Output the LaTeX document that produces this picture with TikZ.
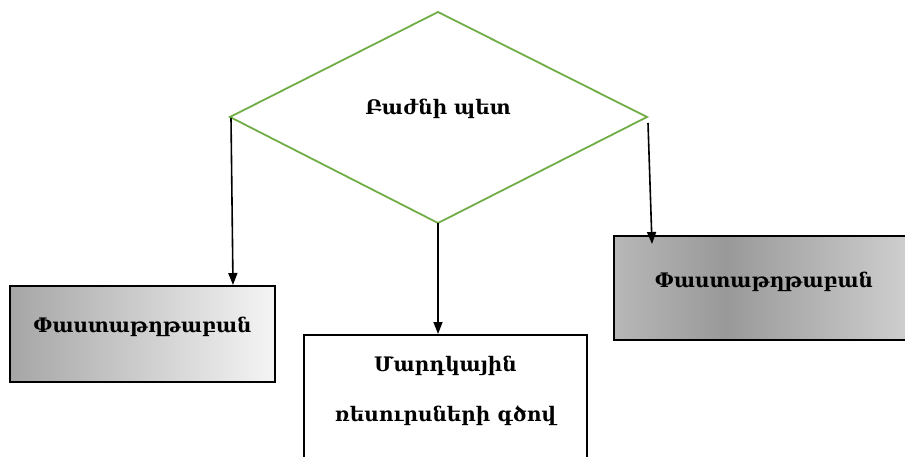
\documentclass[tikz,border=0pt]{standalone}
\usepackage{fontspec}
\setmainfont{DejaVu Serif}
\usetikzlibrary{shapes.geometric,arrows.meta}
\definecolor{dgreen}{HTML}{70AD47}
\pgfdeclarehorizontalshading{rgrad}{100bp}{color(0bp)=(black!28); color(25bp)=(black!28); color(43bp)=(black!40); color(75bp)=(black!17); color(100bp)=(black!17)}
\tikzset{
  box/.style={draw=black, line width=1.6pt, inner sep=0pt},
  lbl/.style={font=\bfseries\fontsize{20}{24}\selectfont},
  conn/.style={line width=1.6pt, -{Triangle[length=12pt,width=9pt]}},
}
\begin{document}
\begin{tikzpicture}[x=1pt,y=-1pt]
\clip (0,0) rectangle (905,457);
\useasboundingbox (0,0) rectangle (905,457);
% diamond
\draw[dgreen, line width=1.8pt] (438,12) coordinate (dt) -- (647,117) coordinate (dr) -- (438,223) coordinate (db) -- (230,117) coordinate (dl) -- cycle;
\node[lbl] (dtext) at (438,109) {Բաժնի պետ};
% left box
\node[box, left color=black!35, right color=black!4, minimum width=265pt, minimum height=96pt] (lbox) at (142.5,334) {};
\node[lbl] (ltext) at (142.5,327) {Փաստաթղթաբան};
% middle box
\node[box, fill=white, minimum width=283pt, minimum height=150pt] (mbox) at (445.5,410) {};
\node[lbl, align=center] (mtext1) at (445.5,366) {Մարդկային};
\node[lbl, align=center] (mtext2) at (445.5,416) {ռեսուրսների գծով};
% right box
\node[box, shading=rgrad, minimum width=311pt, minimum height=104pt] (rbox) at (769.5,288) {};
\node[lbl] (rtext) at (764,282) {Փաստաթղթաբան};
% connectors
\coordinate (ls) at (231,118);
\coordinate (le) at (233,285);
\coordinate (ms) at (438,223);
\coordinate (me) at (438,334);
\coordinate (rs) at (648,123);
\coordinate (re) at (652,244);
\draw[conn] (ls) -- (le);
\draw[conn] (ms) -- (me);
\draw[conn] (rs) -- (re);
\end{tikzpicture}
\end{document}
